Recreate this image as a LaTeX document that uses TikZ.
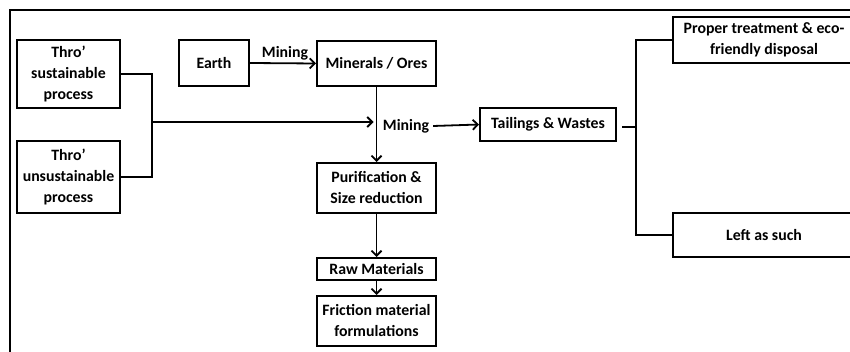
\documentclass[tikz,border=0pt]{standalone}
\usepackage{fontspec}
\setmainfont{Carlito}[Ligatures=ResetAll]
\usetikzlibrary{arrows.meta}
\begin{document}
\begin{tikzpicture}[x=1pt,y=-1pt,
  font=\bfseries\fontsize{15.8}{21}\selectfont,
  box/.style={draw,line width=2pt,rectangle,inner sep=0pt,align=center},
  conn/.style={line width=1.8pt},
  arr/.style={conn,-{Straight Barb[length=5pt,width=10pt,line width=1.8pt]}},
  lbl/.style={inner sep=0pt}]
\useasboundingbox (0,0) rectangle (850,352);
\clip (0,0) rectangle (850,352);
% outer frame
\draw[line width=2pt] (10,10) rectangle (880,380);
% boxes
\node[box,minimum width=103pt,minimum height=68pt] (sust) at (68.5,74) {Thro'\\sustainable\\process};
\node[box,minimum width=103pt,minimum height=72pt] (unsust) at (68.5,177) {Thro'\\unsustainable\\process};
\node[box,minimum width=70pt,minimum height=46pt] (earth) at (214,63) {Earth};
\node[box,minimum width=119pt,minimum height=45pt] (min) at (376.5,63.5) {Minerals / Ores};
\node[box,minimum width=119pt,minimum height=50pt] (pur) at (376.5,188) {Purification \&\\Size reduction};
\node[box,minimum width=119pt,minimum height=22pt] (raw) at (376.5,269) {Raw Materials};
\node[box,minimum width=119pt,minimum height=50pt] (fric) at (376.5,321) {Friction material\\formulations};
\node[box,minimum width=136pt,minimum height=33pt] (tail) at (548,124.5) {Tailings \& Wastes};
\node[box,minimum width=182pt,minimum height=46pt] (prop) at (764,40) {Proper treatment \& eco-\\friendly disposal};
\node[box,minimum width=182pt,minimum height=44pt] (left) at (764,235) {Left as such};
% labels
\node[lbl] (mine2) at (406,126) {Mining};
% connectors
\draw[arr] (earth.east) -- node[lbl,above=2pt,xshift=2pt] (mine1) {Mining} (min.west);
\draw[arr] (min.south) -- (pur.north);
\draw[arr] (pur.south) -- (raw.north);
\draw[arr] (raw.south) -- (fric.north);
\coordinate (j) at (152,122);
\draw[conn] (sust.east) -| (j) |- (unsust.east);
\draw[arr,shorten >=3pt] (j) -- (j -| min.south);
\draw[arr] ([xshift=4pt]mine2.east) -- (tail.west);
\coordinate (b) at (636,127);
\draw[conn,line width=1.3pt] ([xshift=5pt]tail.east |- b) -- (b);
\draw[conn,line width=1.3pt] (prop.west) -| (b) |- (left.west);
\end{tikzpicture}
\end{document}
